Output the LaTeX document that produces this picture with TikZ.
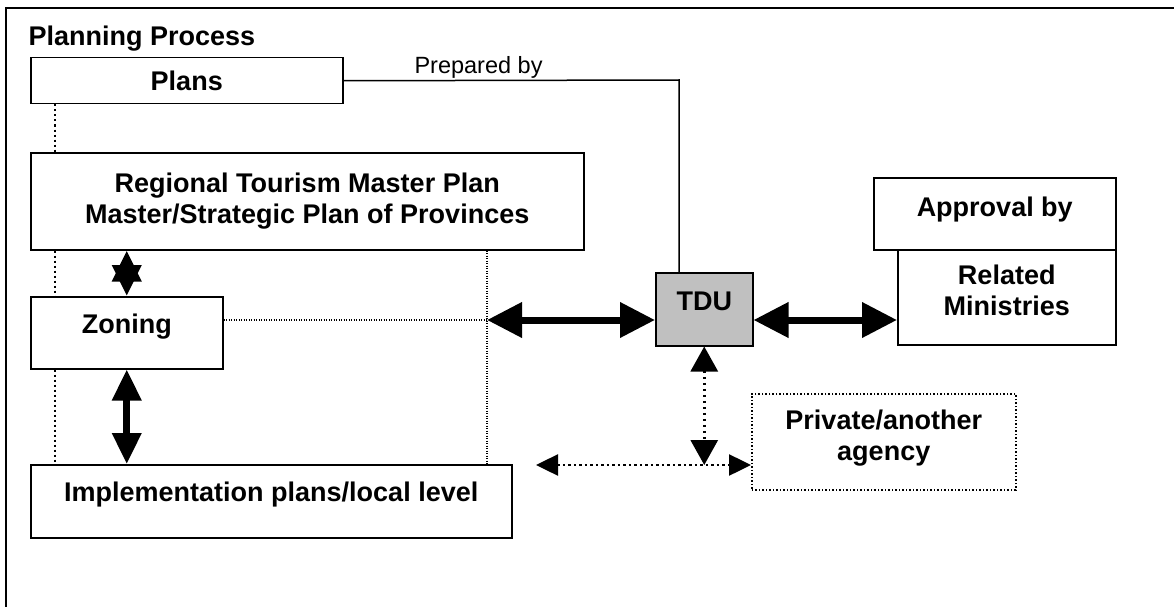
\documentclass[tikz,border=0pt]{standalone}
\usepackage{fontspec}
\setmainfont{Liberation Sans}
\usepackage{tikz}
\usetikzlibrary{arrows.meta}
\usetikzlibrary{positioning}
\definecolor{tdugray}{RGB}{192,192,192}

\begin{document}
\begin{tikzpicture}[x=1pt,y=-1pt,
  box/.style={draw,line width=1.5pt,anchor=north west,inner sep=0pt,align=center,font=\bfseries\fontsize{27}{31}\selectfont},
  bigarr/.style={line width=7pt,{Triangle[length=35pt,width=34pt]}-{Triangle[length=35pt,width=34pt]}},
  midarr/.style={line width=7pt,{Triangle[length=31pt,width=28pt]}-{Triangle[length=31pt,width=28pt]}},
  dotarr/.style={line width=3pt,dash pattern=on 2.5pt off 3.5pt,{Triangle[length=25pt,width=27pt]}-{Triangle[length=25pt,width=27pt]}},
  dotarrh/.style={line width=2.5pt,dash pattern=on 2.5pt off 3pt,{Triangle[length=22pt,width=21pt]}-{Triangle[length=22pt,width=21pt]}},
  dotl/.style={line width=2.2pt,dash pattern=on 2pt off 3pt},
  thindot/.style={line width=1.1pt,dash pattern=on 1pt off 1.5pt}]
  \useasboundingbox (0,0) rectangle (1174,607);
  \draw[line width=1.5pt] (6,607) -- (6,8) -- (1174,8);
  \node[anchor=base west,font=\bfseries\fontsize{27}{31}\selectfont] (title) at (25,46) {Planning Process};
  \node[box,minimum width=312pt,minimum height=46pt] (plans) at (30,57) {Plans};
  \node[anchor=base west,font=\fontsize{23.5}{28}\selectfont] (prep) at (411,74) {Prepared by};
  \node[box,minimum width=553pt,minimum height=97pt] (regional) at (30,152) {Regional Tourism Master Plan\\Master/Strategic Plan of Provinces};
  \node[box,minimum width=192pt,minimum height=72pt,text depth=18pt] (zoning) at (30,296) {Zoning};
  \node[box,minimum width=481pt,minimum height=73pt,text depth=19pt] (impl) at (30,464) {Implementation plans/local level};
  \node[box,minimum width=97pt,minimum height=73pt,text depth=17pt,fill=tdugray] (tdu) at (655,272) {TDU};
  \node[box,minimum width=242pt,minimum height=72pt,text depth=15pt] (approval) at (873,177) {Approval by};
  \node[box,minimum width=218pt,minimum height=95pt,text depth=15pt] (related) at (897,249) {Related\\Ministries};
  \node[box,minimum width=264pt,minimum height=96pt,text depth=14pt,dash pattern=on 1.5pt off 2pt] (private) at (751,393) {Private/another\\agency};
  \coordinate (lx) at (55,0);
  \coordinate (jn) at (487,320);
  \coordinate (bend) at (679,80);
  \coordinate (pl) at (536,465);
  \draw[dotl] (lx |- plans.south) -- (lx |- regional.north);
  \draw[dotl] (lx |- regional.south) -- (lx |- zoning.north);
  \draw[dotl] (lx |- zoning.south) -- (lx |- impl.north);
  \draw[thindot] (zoning.east |- jn) -- (jn);
  \draw[thindot] (jn |- regional.south) -- (jn |- impl.north);
  \draw[midarr] (zoning.north) -- (zoning.north |- regional.south);
  \draw[midarr] (zoning.south) -- (zoning.south |- impl.north);
  \draw[bigarr] (jn) -- (tdu.west |- jn);
  \draw[bigarr] (tdu.east |- jn) -- (related.west |- jn);
  \draw[line width=1.5pt] (plans.east) -- (bend) -- (bend |- tdu.north);
  \draw[dotarr] (tdu.south) -- (tdu.south |- pl);
  \draw[dotarrh] (pl) -- (private.west |- pl);
\end{tikzpicture}
\end{document}
